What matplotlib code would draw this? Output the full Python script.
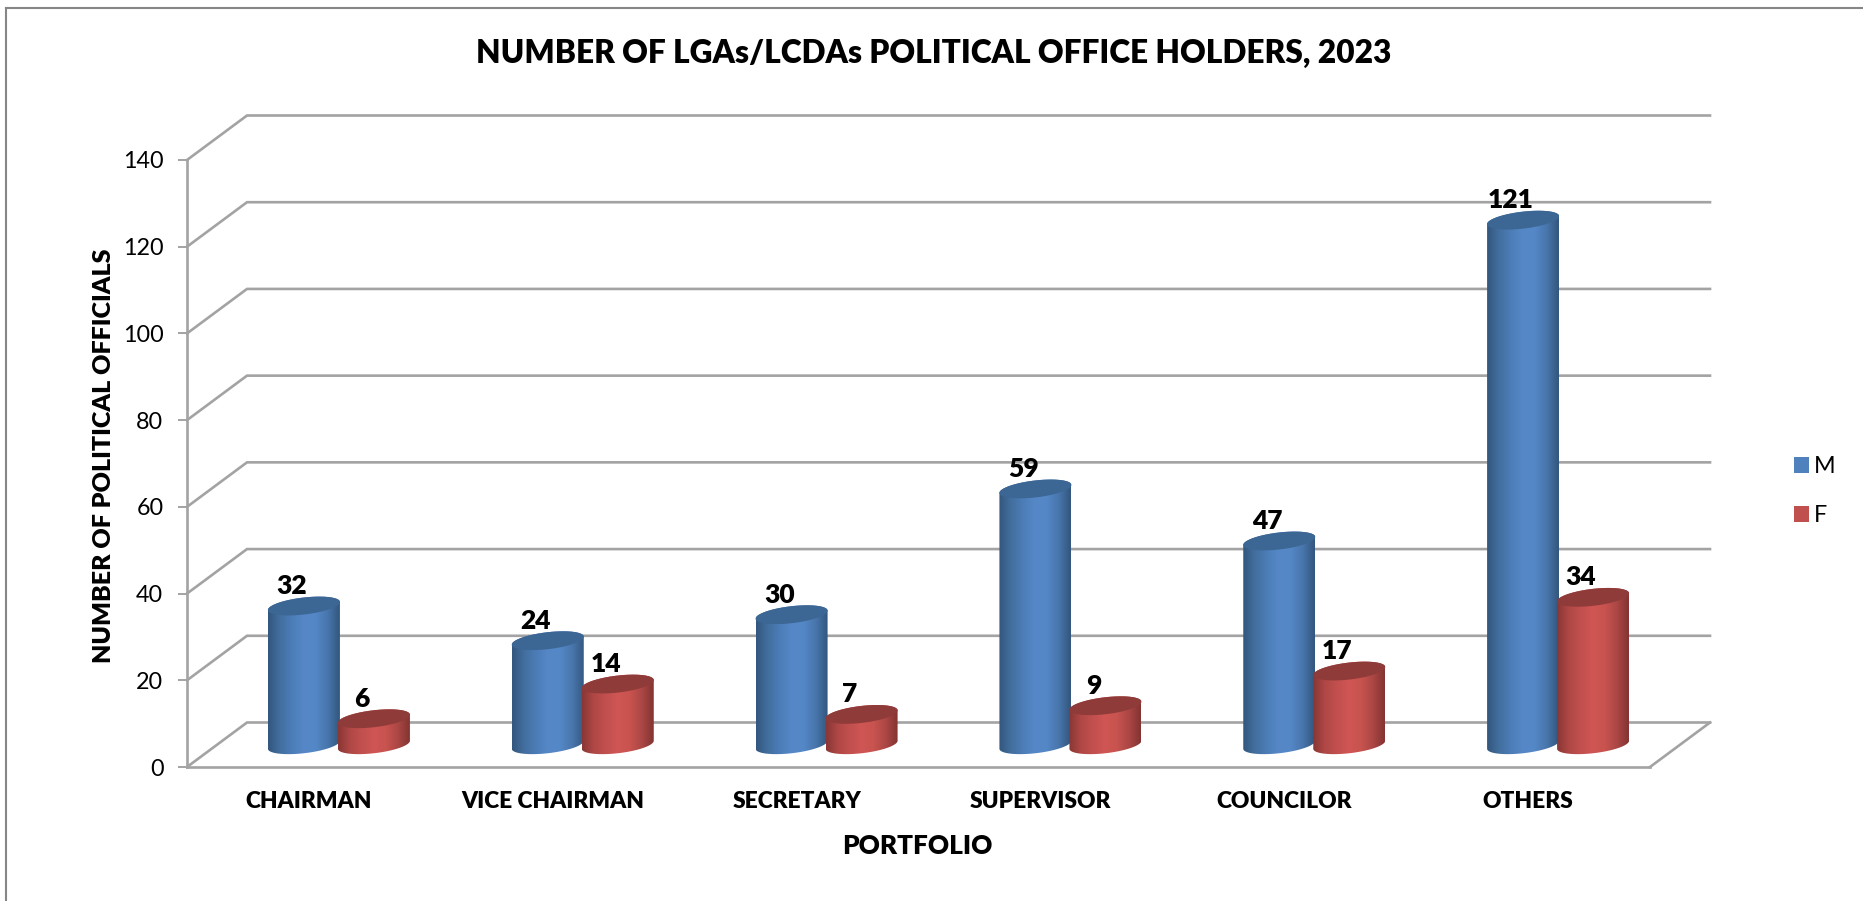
import numpy as np
import matplotlib
matplotlib.use("Agg")
import matplotlib.pyplot as plt
from matplotlib.colors import to_rgb
from matplotlib.lines import Line2D
from matplotlib.patches import Patch, Polygon

plt.rcParams["font.family"] = ["Lato", "DejaVu Sans"]

categories = ["CHAIRMAN", "VICE CHAIRMAN", "SECRETARY", "SUPERVISOR", "COUNCILOR", "OTHERS"]
male = [32, 24, 30, 59, 47, 121]
female = [6, 14, 7, 9, 17, 34]
y_ticks = [0, 20, 40, 60, 80, 100, 120, 140]

W, H = 1863, 901
GRID = "#a3a3a3"
TEXT = "#000000"
HEAVY = 800
BLUE = ["#33577f", "#436f9f", "#4c7db8", "#5688c8", "#5487c6", "#4876ac", "#33577f"]
RED = ["#8a3735", "#b04846", "#c2504e", "#cf5654", "#c8534f", "#ac4745", "#843432"]
BLUE_TOP = "#3c6693"
RED_TOP = "#8f3b39"
BLUE_KEY = "#4f81bd"
RED_KEY = "#c0504d"

fig = plt.figure(figsize=(W / 100, H / 100), dpi=100, facecolor="white")
# front plane of the fake 3D box, in pixels of the reference
ax = fig.add_axes([187 / W, 1 - 767 / H, (1650 - 187) / W, (767 - 160) / H])
ax.set_xlim(0, len(categories))
ax.set_ylim(0, 140)
ax.patch.set_alpha(0)

px_x = (1650 - 187) / len(categories)
px_y = (767 - 160) / 140
depth_x = 60 / px_x
depth_y = 44.5 / px_y


def ramp(stops, n=80):
    rgb = np.array([to_rgb(c) for c in stops])
    pos = np.linspace(0, 1, len(stops))
    t = np.linspace(0, 1, n)
    return np.stack([np.interp(t, pos, rgb[:, i]) for i in range(3)], axis=1)[None, :, :]


def cylinder(center, value, stops, top_color):
    # center is in category units on the floor's middle line
    a = 36 / px_x
    b = 8.5 / px_y
    k = 4 / px_y
    y0 = depth_y / 2
    y1 = y0 + value
    t = np.linspace(0, 2 * np.pi, 120)
    ex = np.cos(t) * a
    ey = np.sin(t) * b + np.cos(t) * k
    low = t[60:]  # lower half of the ellipse, left to right
    lx = np.cos(low) * a
    ly = np.sin(low) * b + np.cos(low) * k
    up = t[:60]
    ux = np.cos(up) * a
    uy = np.sin(up) * b + np.cos(up) * k
    outline = np.vstack([
        np.column_stack([center + lx, y0 + ly]),
        np.column_stack([center + ux, y1 + uy]),
    ])
    clip = Polygon(outline, closed=True, transform=ax.transData, fc="none", ec="none")
    ax.add_patch(clip)
    im = ax.imshow(ramp(stops), extent=[center - a, center + a, y0 - b - k, y1 + b + k],
                   aspect="auto", zorder=3, interpolation="bilinear")
    im.set_clip_path(clip)
    ax.fill(center + ex, y1 + ey, color=top_color, lw=0, zorder=3.1)
    return y1


# back wall + side wall gridlines
for v in y_ticks:
    ax.plot([0, depth_x, len(categories) + depth_x], [v, v + depth_y, v + depth_y],
            color=GRID, lw=1.9, clip_on=False, zorder=1, solid_joinstyle="miter")
ax.plot([len(categories), len(categories) + depth_x], [0, depth_y],
        color=GRID, lw=1.9, clip_on=False, zorder=1)

bar_off = 35 / px_x
for i in range(len(categories)):
    mid = i + 0.5 + depth_x / 2
    top_m = cylinder(mid - bar_off, male[i], BLUE, BLUE_TOP)
    top_f = cylinder(mid + bar_off, female[i], RED, RED_TOP)
    for cx, top, val in [(mid - bar_off, top_m, male[i]), (mid + bar_off, top_f, female[i])]:
        ax.annotate(str(val), (cx, top), xytext=(-12 * 0.72, 20 * 0.72), textcoords="offset points",
                    ha="center", va="center", fontsize=19, fontweight=HEAVY, color=TEXT,
                    annotation_clip=False, zorder=5)

ax.set_xlim(0, len(categories))
ax.set_ylim(0, 140)

for side in ["top", "right"]:
    ax.spines[side].set_visible(False)
for side in ["left", "bottom"]:
    ax.spines[side].set_color(GRID)
    ax.spines[side].set_linewidth(1.9)

ax.set_yticks(y_ticks)
ax.tick_params(axis="y", length=6.5, width=1.4, color=GRID, labelsize=16.8, labelcolor=TEXT, pad=10.5)
ax.set_xticks(np.arange(len(categories)) + 0.5)
ax.set_xticklabels(categories, fontsize=16.4, fontweight=HEAVY, color=TEXT)
ax.tick_params(axis="x", length=0, pad=17.5)

ax.set_xlabel("PORTFOLIO", fontsize=18.8, fontweight=HEAVY, color=TEXT)
ax.xaxis.set_label_coords(917 / W, 1 - 846 / H, transform=fig.transFigure)
ax.set_ylabel("NUMBER OF POLITICAL OFFICIALS", fontsize=18, fontweight=HEAVY, color=TEXT)
ax.yaxis.set_label_coords(104 / W, 1 - 456 / H, transform=fig.transFigure)
ax.xaxis.label.set_va("center")
ax.yaxis.label.set_va("center")

fig.text(934 / W, 1 - 53 / H, "NUMBER OF LGAs/LCDAs POLITICAL OFFICE HOLDERS, 2023",
         ha="center", va="center", fontsize=22.8, fontweight=HEAVY, color=TEXT)

handles = [Patch(fc=BLUE_KEY, ec="none", label="M"), Patch(fc=RED_KEY, ec="none", label="F")]
ax.legend(handles=handles, loc="center left", bbox_to_anchor=(1773 / W, 1 - 491 / H),
          bbox_transform=fig.transFigure, frameon=False, fontsize=16.8, labelcolor=TEXT,
          handlelength=0.65, handleheight=0.65, handletextpad=0.2, labelspacing=1.2)

# chart frame, only the top and left edges are inside the picture
fig.add_artist(Line2D([6 / W, 6 / W], [0, 1 - 8 / H], color="#868686", lw=1.5))
fig.add_artist(Line2D([6 / W, 1], [1 - 8 / H, 1 - 8 / H], color="#868686", lw=1.5))

fig.savefig("out.png", dpi=100, facecolor="white")
plt.close(fig)
